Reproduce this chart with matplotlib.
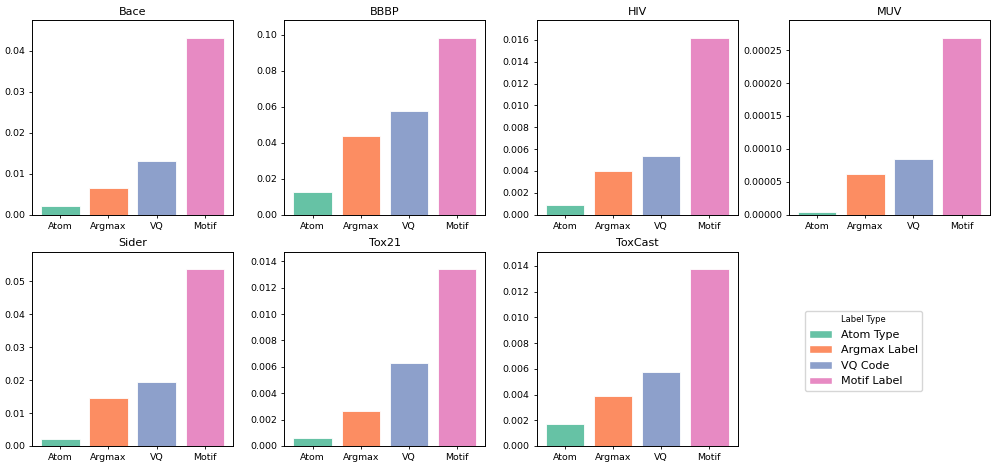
import matplotlib
matplotlib.use("Agg")
import matplotlib.pyplot as plt
from matplotlib.patches import Patch
from matplotlib.ticker import MaxNLocator

datasets = ["Bace", "BBBP", "HIV", "MUV", "Sider", "Tox21", "ToxCast"]
tick_labels = ["Atom", "Argmax", "VQ", "Motif"]
legend_labels = ["Atom Type", "Argmax Label", "VQ Code", "Motif Label"]
colors = ["#66c2a5", "#fc8d62", "#8da0cb", "#e78ac3"]

bace = [0.0022, 0.0064, 0.0130, 0.0432]
bbbp = [0.0125, 0.0435, 0.0575, 0.0982]
hiv = [0.0009, 0.0040, 0.0054, 0.0162]
muv = [0.000004, 0.000061, 0.000085, 0.000269]
sider = [0.0021, 0.0146, 0.0195, 0.0537]
tox21 = [0.00058, 0.00265, 0.00627, 0.01340]
toxcast = [0.0017, 0.0039, 0.00575, 0.01375]
values = [bace, bbbp, hiv, muv, sider, tox21, toxcast]

plt.rcParams["axes.linewidth"] = 0.7

fig, axes = plt.subplots(2, 4, figsize=(9.96, 4.67), dpi=100)
fig.subplots_adjust(left=0.0321, right=0.994, top=0.957, bottom=0.045,
                    wspace=0.254, hspace=0.19)
axes = axes.ravel()
for ax, name, vals in zip(axes, datasets, values):
    ax.bar(range(len(vals)), vals, color=colors, width=0.8,
           edgecolor="white", linewidth=0.6)
    ax.set_xticks(range(len(vals)))
    ax.set_xticklabels(tick_labels)
    ax.set_title(name, fontsize=8, pad=4)
    ax.tick_params(labelsize=6.75, length=2.5, width=0.6, pad=2.5)
    ax.set_ylim(0, max(vals) * 1.1)
    ax.yaxis.set_major_locator(MaxNLocator(nbins=9, steps=[1, 2, 2.5, 5, 10]))

axes[7].axis("off")
handles = [Patch(facecolor=c, edgecolor="white", label=l) for c, l in zip(colors, legend_labels)]
fig.legend(handles=handles, title="Label Type", loc="center",
           bbox_to_anchor=(0.867, 0.249), fontsize=8, title_fontsize=6)

fig.savefig("out.png", dpi=100)
